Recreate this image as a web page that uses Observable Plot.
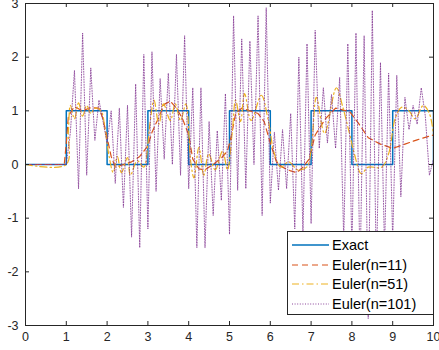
<!DOCTYPE html>
<html><head><meta charset="utf-8">
<script src="https://cdn.jsdelivr.net/npm/d3@7"></script>
<script src="https://cdn.jsdelivr.net/npm/@observablehq/plot@0.6"></script>
<style>
html,body{margin:0;padding:0;background:#fff;}
#wrap{position:relative;width:439px;height:350px;font-family:"Liberation Sans",Arial,Helvetica,sans-serif;color:#262626;}
#legend{position:absolute;left:287px;top:231px;width:145px;height:82px;background:#fff;border:1px solid #262626;}
.row{position:absolute;left:0;height:20px;width:145px;}
.row svg{position:absolute;left:4px;top:0;}
.row span{position:absolute;left:44px;top:0;line-height:20px;font-size:14.5px;color:#000;white-space:nowrap;}
</style>
</head><body>
<div id="wrap"><div id="chart"></div><div id="legend"></div></div>
<script>
// ---- data ----
const xTicks = [0,1,2,3,4,5,6,7,8,9,10];
const yTicks = [-3,-2,-1,0,1,2,3];
const seriesNames = ["Exact","Euler(n=11)","Euler(n=51)","Euler(n=101)"];
const seriesColors = ["#0072BD","#D95319","#EDB120","#7E2F8E"];
const seriesDash = [null,"6,4","7,3,1.5,3","1,1.6"];

const exactX = [0,1,2,3,4,5,6,7,8,9,10];
const exactY = [0,1,0,1,0,1,0,1,0,1,0];

const euler11X = [0,0.95,1.0,1.05,1.2,1.4,1.6,1.8,1.9,2.0,2.1,2.2,2.4,2.6,2.8,3.0,3.1,3.25,3.4,3.55,3.7,3.85,4.0,4.1,4.25,4.4,4.6,4.8,4.95,5.05,5.15,5.3,5.5,5.7,5.85,6.0,6.15,6.3,6.5,6.65,6.8,6.95,7.1,7.35,7.6,7.95,8.15,8.4,8.7,9.0,9.3,9.6,10];
const euler11Y = [0,0,0.4,0.9,1.08,1.0,1.06,1.05,0.85,0.5,0.15,-0.05,0.0,0.05,0.15,0.35,0.6,0.85,1.12,1.18,1.05,0.85,0.55,0.1,-0.08,-0.1,0.0,0.12,0.25,0.55,0.95,1.05,1.0,0.95,0.8,0.4,0.05,-0.05,-0.12,-0.15,-0.05,0.1,0.55,0.85,1.05,0.98,0.78,0.5,0.38,0.3,0.38,0.46,0.55];

const euler51X = [0,1.0,1.05,1.1,1.2,1.3,1.4,1.5,1.6,1.7,1.85,1.95,2.05,2.15,2.25,2.35,2.5,2.57,2.74,2.9,3.0,3.06,3.15,3.27,3.38,3.55,3.67,3.8,3.93,4.05,4.13,4.25,4.37,4.49,4.65,4.83,4.95,5.07,5.15,5.27,5.37,5.53,5.78,5.95,6.1,6.26,6.45,6.67,6.89,7.0,7.13,7.33,7.62,7.78,7.94,8.06,8.23,8.4,8.73,8.9,9.07,9.23,9.4,9.55,9.75,9.9,10];
const euler51Y = [0,0,0.6,1.1,0.85,1.15,0.9,1.1,0.95,1.05,1.0,0.65,0.15,-0.15,0.15,-0.15,0.13,-0.2,0.07,-0.05,0.4,0.82,1.2,0.75,1.13,0.82,1.13,0.82,1.13,0.05,-0.25,0.32,-0.2,0.2,-0.1,0.25,-0.1,0.63,1.2,0.8,1.32,0.82,1.29,0.82,0.2,-0.05,0.05,-0.1,-0.05,0.26,1.25,0.58,1.43,1.06,0.58,0.2,-0.17,-0.05,-0.05,0.2,0.88,1.07,1.0,0.85,1.1,0.95,0.55];

// Euler(n=101): one value per step of 0.1 from x = 0 to 10
const euler101Y = [0,0,0,0,0,0,0,0,0,0,
  0.0,0.6,1.75,-0.45,2.45,-0.2,1.8,0.45,1.2,0.8,
  0.4,1.0,-0.35,1.05,-0.8,1.1,-1.35,1.5,-1.55,2.05,
  -1.2,2.1,-0.5,1.6,0.1,1.7,0.0,2.05,-0.2,2.4,
  -0.45,1.43,-1.55,1.43,-1.55,0.8,-0.95,0.63,-0.67,1.32,
  -1.3,2.77,-0.48,2.34,-0.45,2.3,0.0,2.77,-0.95,2.92,
  -0.72,0.6,-0.48,0.65,-0.45,0.95,-1.2,2.0,-1.3,2.25,
  -1.1,2.5,0.3,1.43,0.4,1.3,0.3,1.62,-1.4,2.25,
  -1.6,2.45,-2.0,2.4,-2.87,2.87,-2.0,1.9,-1.6,1.7,
  -1.4,1.66,-0.6,1.25,0.65,1.1,0.75,1.43,0.9,-0.2,
  0.1];
const euler101X = euler101Y.map((_, i) => i / 10);

// ---- tables ----
const toRows = (xs, ys) => xs.map((x, i) => ({x, y: ys[i]}));
const exact = toRows(exactX, exactY);
const e11 = toRows(euler11X, euler11Y);
const e51 = toRows(euler51X, euler51Y);
const e101 = toRows(euler101X, euler101Y);

const W = 439, H = 350, mL = 25, mR = 6, mT = 3, mB = 25;
const plotW = W - mL - mR, plotH = H - mT - mB;
const axisColor = "#262626";
const fmt = d => String(d);

const chart = Plot.plot({
  width: W, height: H,
  marginLeft: mL, marginRight: mR, marginTop: mT, marginBottom: mB,
  style: {fontFamily: '"Liberation Sans", Arial, sans-serif', fontSize: "12.5px", color: axisColor, background: "#fff"},
  x: {domain: [0, 10], ticks: xTicks},
  y: {domain: [-3, 3], ticks: yTicks},
  marks: [
    Plot.line(exact, {x: "x", y: "y", curve: "step-after", stroke: seriesColors[0], strokeWidth: 1.5, clip: true}),
    Plot.line(e11, {x: "x", y: "y", stroke: seriesColors[1], strokeWidth: 1.2, strokeDasharray: seriesDash[1], clip: true}),
    Plot.line(e51, {x: "x", y: "y", curve: "catmull-rom", stroke: seriesColors[2], strokeWidth: 1.2, strokeDasharray: seriesDash[2], clip: true}),
    Plot.line(e101, {x: "x", y: "y", stroke: seriesColors[3], strokeWidth: 0.9, strokeOpacity: 0.85, strokeDasharray: seriesDash[3], clip: true}),
    // inward ticks on all four sides
    Plot.ruleX(xTicks, {x: d => d, insetTop: plotH - 4, stroke: axisColor}),
    Plot.ruleX(xTicks, {x: d => d, insetBottom: plotH - 4, stroke: axisColor}),
    Plot.ruleY(yTicks, {y: d => d, insetRight: plotW - 4, stroke: axisColor}),
    Plot.ruleY(yTicks, {y: d => d, insetLeft: plotW - 4, stroke: axisColor}),
    Plot.frame({stroke: axisColor}),
    Plot.axisX(xTicks, {tickSize: 0, tickPadding: 7, tickFormat: fmt, label: null}),
    Plot.axisY(yTicks, {tickSize: 0, tickPadding: 7, tickFormat: fmt, label: null})
  ]
});
document.getElementById("chart").appendChild(chart);

// ---- legend ----
const legend = document.getElementById("legend");
seriesNames.forEach((name, i) => {
  const row = document.createElement("div");
  row.className = "row";
  row.style.top = (3 + i * 19.7) + "px";
  const dash = seriesDash[i] ? ` stroke-dasharray="${seriesDash[i]}"` : "";
  const sw = i === 0 ? 1.5 : (i === 3 ? 0.9 : 1.2);
  row.innerHTML = `<svg width="37" height="20"><line x1="0" x2="37" y1="10" y2="10" stroke="${seriesColors[i]}" stroke-width="${sw}"${dash}/></svg><span>${name}</span>`;
  legend.appendChild(row);
});
</script>
</body></html>
